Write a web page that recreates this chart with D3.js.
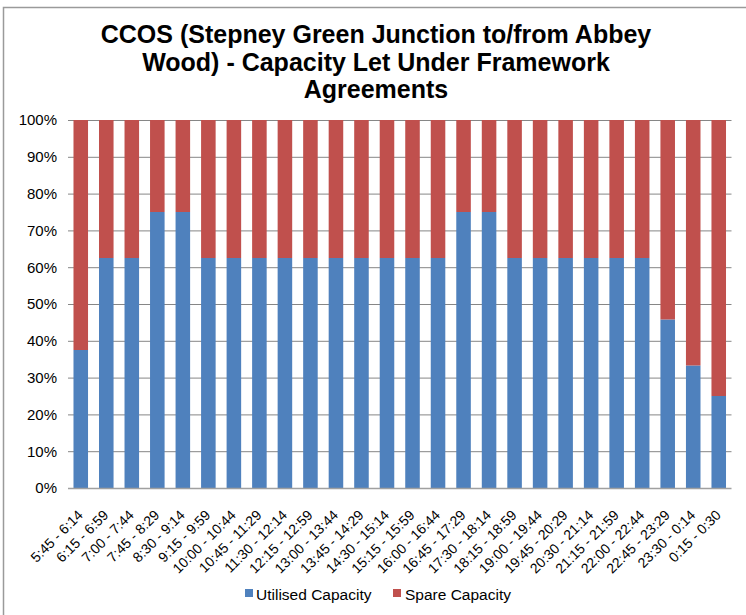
<!DOCTYPE html>
<html><head><meta charset="utf-8">
<script src="https://cdn.jsdelivr.net/npm/d3@7"></script>
<style>body{margin:0;background:#fff}svg{display:block}</style>
</head><body>
<svg id="c" width="746" height="615"></svg>
<script>
const categories = ["5:45 - 6:14","6:15 - 6:59","7:00 - 7:44","7:45 - 8:29","8:30 - 9:14","9:15 - 9:59","10:00 - 10:44","10:45 - 11:29","11:30 - 12:14","12:15 - 12:59","13:00 - 13:44","13:45 - 14:29","14:30 - 15:14","15:15 - 15:59","16:00 - 16:44","16:45 - 17:29","17:30 - 18:14","18:15 - 18:59","19:00 - 19:44","19:45 - 20:29","20:30 - 21:14","21:15 - 21:59","22:00 - 22:44","22:45 - 23:29","23:30 - 0:14","0:15 - 0:30"];
const utilised = [37.5,62.5,62.5,75,75,62.5,62.5,62.5,62.5,62.5,62.5,62.5,62.5,62.5,62.5,75,75,62.5,62.5,62.5,62.5,62.5,62.5,45.8,33.3,25];
const spare = utilised.map(v => 100 - v);
const seriesNames = ["Utilised Capacity","Spare Capacity"];
const colors = ["#4F81BD","#C0504D"];
const yTicks = [0,10,20,30,40,50,60,70,80,90,100];
const titleLines = ["CCOS (Stepney Green Junction to/from Abbey","Wood) - Capacity Let Under Framework","Agreements"];

const svg = d3.select("#c");
const font = "'Liberation Sans', Arial, sans-serif";
// outer border
svg.append("path").attr("d","M3.5,615 L3.5,7.5 L746,7.5").attr("fill","none").attr("stroke","#9a9a9a").attr("stroke-width",1.5);

const title = svg.append("text").attr("text-anchor","middle").attr("font-family",font)
  .attr("font-weight","bold").attr("font-size",25).attr("fill","#000");
titleLines.forEach((t,i)=> title.append("tspan").attr("x",376).attr("y",43+i*27.5).text(t));

const x = d3.scaleBand().domain(categories).range([68,731.5]).paddingInner(0.43).paddingOuter(0.215);
const y = d3.scaleLinear().domain([0,100]).range([488,120]);

// gridlines
svg.append("g").selectAll("line").data(yTicks.filter(d=>d>0)).join("line")
  .attr("x1",68).attr("x2",731.5).attr("y1",d=>y(d)+0.5).attr("y2",d=>y(d)+0.5)
  .attr("stroke","#868686").attr("stroke-width",1);

const stacked = d3.stack().keys([0,1]).value((d,k)=>k===0?d.u:d.s)(categories.map((c,i)=>({c,u:utilised[i],s:spare[i]})));
stacked.forEach((layer,k)=>{
  svg.append("g").selectAll("rect").data(layer).join("rect")
    .attr("x",d=>x(d.data.c)).attr("width",x.bandwidth())
    .attr("y",d=>y(d[1])).attr("height",d=>y(d[0])-y(d[1]))
    .attr("fill",colors[k]);
});

// y axis
const ya = svg.append("g").attr("transform","translate(68,0)").call(d3.axisLeft(y).tickValues(yTicks).tickFormat(d=>d+"%").tickSize(0).tickPadding(11));
ya.select(".domain").remove();
ya.selectAll("text").attr("font-family",font).attr("font-size",15).attr("fill","#000");

// x axis
const xa = svg.append("g").attr("transform","translate(0,488)").call(d3.axisBottom(x).tickSize(0).tickPadding(0));
xa.select(".domain").attr("stroke","#a0a0a0").attr("stroke-width",1.5).attr("d","M68,0.5H731.5");
xa.selectAll("text").attr("font-family",font).attr("font-size",14).attr("fill","#000")
  .attr("text-anchor","end").attr("dy",null).attr("y",0)
  .attr("transform","translate(3,28) rotate(-45)");

// legend
const leg = [{x:245,tx:256},{x:393,tx:405}];
seriesNames.forEach((n,i)=>{
  svg.append("rect").attr("x",leg[i].x).attr("y",589).attr("width",8).attr("height",8).attr("fill",colors[i]);
  svg.append("text").attr("x",leg[i].tx).attr("y",599.5).attr("font-family",font).attr("font-size",15.5).attr("fill","#000").text(n);
});
</script>
</body></html>
